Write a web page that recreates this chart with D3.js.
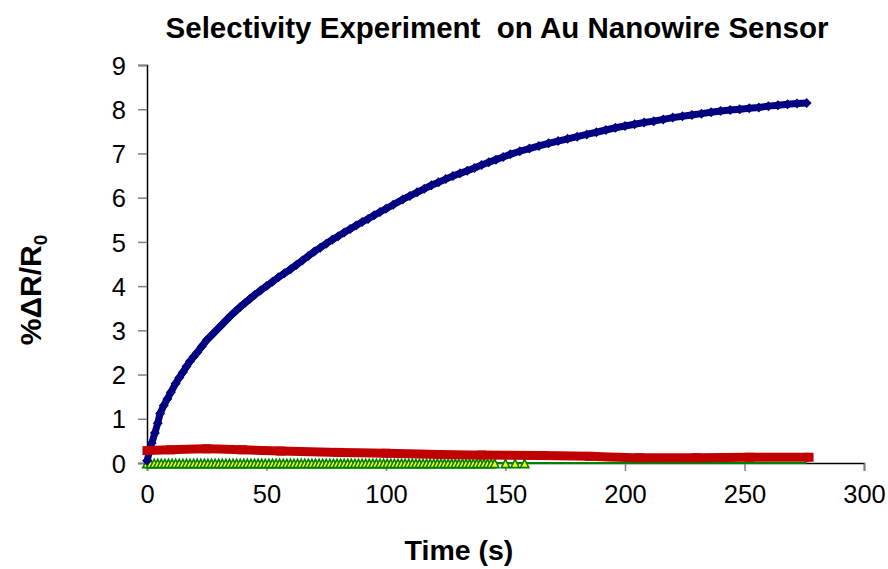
<!DOCTYPE html>
<html>
<head>
<meta charset="utf-8">
<script src="https://cdn.jsdelivr.net/npm/d3@7"></script>
<style>
  body { margin: 0; background: #fff; }
  text { font-family: "Liberation Sans", Arial, sans-serif; }
</style>
</head>
<body>
<svg id="viz"></svg>
<script>
// data
let blueTime = [0, 2, 3.3, 4.5, 5.5, 7, 8.5, 10, 12, 13.5, 15, 16.5, 18, 19.5, 21, 23, 25, 27, 29, 31, 33, 35, 37, 39, 41, 43, 45, 47.5, 50, 52.5, 55, 57.5, 60, 62.5, 65, 67.5, 70, 72.5, 75, 77.5, 80, 82.5, 85, 87.5, 90, 92.5, 95, 97.5, 100, 103, 107, 110, 113, 116, 119, 122, 125, 128, 131, 134, 137, 140, 143, 146, 149, 152, 156, 160, 164, 168, 172, 176, 180, 184, 188, 192, 196, 200, 204, 208, 212, 216, 220, 224, 228, 232, 236, 240, 244, 248, 252, 256, 260, 264, 268, 272, 276];
let blueValue = [0.05, 0.45, 0.68, 0.9, 1.12, 1.3, 1.45, 1.6, 1.8, 1.93, 2.05, 2.18, 2.3, 2.4, 2.5, 2.64, 2.78, 2.89, 3.0, 3.11, 3.22, 3.33, 3.43, 3.53, 3.62, 3.71, 3.8, 3.9, 4.0, 4.1, 4.2, 4.29, 4.38, 4.48, 4.58, 4.68, 4.78, 4.87, 4.96, 5.05, 5.13, 5.21, 5.29, 5.37, 5.45, 5.52, 5.6, 5.675, 5.75, 5.84, 5.96, 6.04, 6.12, 6.2, 6.28, 6.35, 6.42, 6.49, 6.55, 6.61, 6.67, 6.74, 6.8, 6.86, 6.92, 6.98, 7.05, 7.11, 7.17, 7.23, 7.28, 7.33, 7.38, 7.43, 7.48, 7.53, 7.58, 7.62, 7.66, 7.7, 7.73, 7.77, 7.81, 7.84, 7.87, 7.9, 7.93, 7.96, 7.98, 8.0, 8.02, 8.04, 8.07, 8.09, 8.11, 8.13, 8.14];

let redTime = [0, 10, 25, 40, 56, 80, 100, 122, 140, 165, 185, 206, 230, 252, 277];
let redValue = [0.28, 0.3, 0.32, 0.3, 0.27, 0.24, 0.22, 0.19, 0.18, 0.17, 0.15, 0.12, 0.12, 0.13, 0.13];

let greenTime = [0, 1.5, 3, 4.5, 6, 7.5, 9, 10.5, 12, 13.5, 15, 16.5, 18, 19.5, 21, 22.5, 24, 25.5, 27, 28.5, 30, 31.5, 33, 34.5, 36, 37.5, 39, 40.5, 42, 43.5, 45, 46.5, 48, 49.5, 51, 52.5, 54, 55.5, 57, 58.5, 60, 61.5, 63, 64.5, 66, 67.5, 69, 70.5, 72, 73.5, 75, 76.5, 78, 79.5, 81, 82.5, 84, 85.5, 87, 88.5, 90, 91.5, 93, 94.5, 96, 97.5, 99, 100.5, 102, 103.5, 105, 106.5, 108, 109.5, 111, 112.5, 114, 115.5, 117, 118.5, 120, 121.5, 123, 124.5, 126, 127.5, 129, 130.5, 132, 133.5, 135, 136.5, 138, 139.5, 141, 142.5, 144, 145.5, 150, 154, 158];
let greenValue = greenTime.map(() => 0);
let greenLineEnd = 276;

let xTicks = [0, 50, 100, 150, 200, 250, 300];
let yTicks = [0, 1, 2, 3, 4, 5, 6, 7, 8, 9];

let W = 888, H = 569;
let svg = d3.select("#viz").attr("width", W).attr("height", H);

let x = d3.scaleLinear().domain([0, 300]).range([147, 864]);
let y = d3.scaleLinear().domain([0, 9]).range([463, 65]);

// title
svg.append("text")
  .attr("x", 497).attr("y", 38)
  .attr("text-anchor", "middle")
  .style("font-size", "29.5px").style("font-weight", "bold")
  .text("Selectivity Experiment\u00a0 on Au Nanowire Sensor");

// axes
let yAxis = svg.append("g")
  .attr("transform", "translate(147,0)")
  .call(d3.axisLeft(y).tickValues(yTicks).tickSize(9).tickPadding(12).tickFormat(d3.format("d")));
let xAxis = svg.append("g")
  .attr("transform", "translate(0,463)")
  .call(d3.axisBottom(x).tickValues(xTicks).tickSize(8).tickPadding(14).tickFormat(d3.format("d")));

[yAxis, xAxis].forEach(a => {
  a.select(".domain").attr("stroke", "#000").attr("stroke-width", 1.5);
  a.selectAll(".tick line").attr("stroke", "#808080").attr("stroke-width", 1.5);
  a.selectAll(".tick text").style("font-size", "25.5px").attr("fill", "#000")
    .style("font-family", "'Liberation Sans', Arial, sans-serif");
});
yAxis.selectAll(".tick text").attr("dy", "0.36em");

// axis labels
svg.append("text")
  .attr("x", 459).attr("y", 560)
  .attr("text-anchor", "middle")
  .style("font-size", "28.5px").style("font-weight", "bold")
  .text("Time (s)");

let yl = svg.append("text")
  .attr("transform", "translate(41,290) rotate(-90)")
  .attr("text-anchor", "middle")
  .style("font-size", "30px").style("font-weight", "bold");
yl.append("tspan").text("%\u0394R/R");
yl.append("tspan").attr("dy", 6).style("font-size", "19px").text("0");

let line = d3.line().x(d => x(d[0])).y(d => y(d[1]));

// green series
let greenPts = greenTime.map((t, i) => [t, greenValue[i]]);
svg.append("path")
  .attr("d", line([[0, 0], [greenLineEnd, 0]]))
  .attr("stroke", "#008000").attr("stroke-width", 2).attr("fill", "none");
svg.selectAll("path.tri")
  .data(greenPts).enter().append("path")
  .classed("tri", true)
  .attr("d", "M0,-4.5L4.2,3.8L-4.2,3.8Z")
  .attr("fill", "#ffff00").attr("stroke", "#008000").attr("stroke-width", 1.6)
  .attr("transform", d => "translate(" + [x(d[0]), y(d[1]) + 0.8] + ")");

// blue series
let bluePts = blueTime.map((t, i) => [t, blueValue[i]]);
svg.append("path")
  .attr("d", line(bluePts))
  .attr("stroke", "#000080").attr("stroke-width", 7).attr("fill", "none");
svg.selectAll("path.dia")
  .data(bluePts).enter().append("path")
  .classed("dia", true)
  .attr("d", "M0,-5L5,0L0,5L-5,0Z")
  .attr("fill", "#000080")
  .attr("transform", d => "translate(" + [x(d[0]), y(d[1])] + ")");

// red series
let redPts = redTime.map((t, i) => [t, redValue[i]]);
svg.append("path")
  .attr("d", d3.line().x(d => x(d[0])).y(d => y(d[1])).curve(d3.curveMonotoneX)(redPts))
  .attr("stroke", "#c00000").attr("stroke-width", 9).attr("fill", "none");
svg.selectAll("rect.sq")
  .data(redPts).enter().append("rect")
  .classed("sq", true)
  .attr("x", d => x(d[0]) - 4.5).attr("y", d => y(d[1]) - 4.5)
  .attr("width", 9).attr("height", 9)
  .attr("fill", "#c00000");
</script>
</body>
</html>
